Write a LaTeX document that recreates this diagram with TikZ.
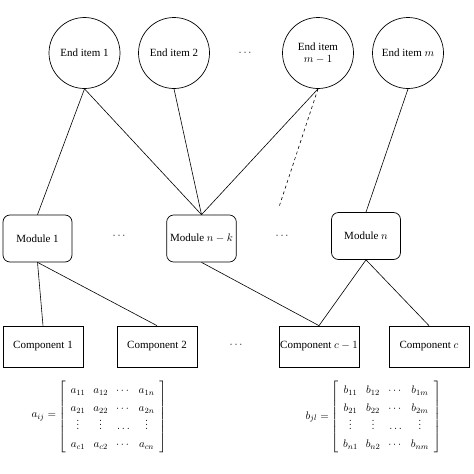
\documentclass[tikz,border=0pt]{standalone}
\usepackage{amsmath}
\usepackage{fontspec}
\setmainfont{Liberation Serif}
\usetikzlibrary{positioning}
\newcommand{\shortvdots}{\vbox{\baselineskip4pt\lineskiplimit0pt\hbox{$.$}\hbox{$.$}\hbox{$.$}}}

\begin{document}
\begin{tikzpicture}[x=1pt,y=-1pt, every node/.style={font=\fontsize{11}{12}\selectfont},
    enditem/.style={draw, circle, line width=0.7pt, minimum size=71pt, inner sep=0pt, align=center},
    module/.style={draw, line width=0.7pt, rounded corners=7pt, minimum width=69pt, minimum height=47pt},
    part/.style={draw, line width=0.7pt, minimum width=80pt, minimum height=41pt, inner sep=1pt},
    link/.style={line width=0.6pt}]
    \useasboundingbox (0,0) rectangle (474,474);

    % End items
    \node[enditem] (e1) at (84.5,53) {End item 1};
    \node[enditem] (e2) at (174,53) {End item 2};
    \node (edots) at (246,53) {$\cdots$};
    \node[enditem] (em1) at (318,53) {End item\\$m-1$};
    \node[enditem] (em) at (408,53) {End item $m$};

    % Modules
    \node[module] (m1) at (37.5,238.5) {Module 1};
    \node (mdots1) at (120,236) {$\cdots$};
    \node[module] (mnk) at (201.5,238.5) {Module $n-k$};
    \node (mdots2) at (283,236) {$\cdots$};
    \node[module] (mn) at (366,236) {Module $n$};

    % Components
    \node[part] (c1) at (43,346.5) {Component 1};
    \node[part] (c2) at (157,346.5) {Component 2};
    \node (cdots) at (237,345) {$\cdots$};
    \node[part] (cc1) at (319,346.5) {Component $c-1$};
    \node[part] (cc) at (429,346.5) {Component $c$};

    % End items to modules
    \draw[link] (e1.south) -- (m1.north);
    \draw[link] (e1.south) -- (mnk.north);
    \draw[link] (e2.south) -- (mnk.north);
    \draw[link] (em1.south) -- (mnk.north);
    \coordinate (dashend) at (279,207);
    \draw[link, dashed] (em1.south) -- (dashend);
    \draw[link] (em.south) -- (mn.north);

    % Modules to components
    \draw[link] (m1.south) -- (c1.north);
    \draw[link] (m1.south) -- (c2.north);
    \draw[link] (mnk.south) -- (cc1.north);
    \draw[link] (mn.south) -- (cc1.north);
    \draw[link] (mn.south) -- (cc.north);

    % Matrices
    \node (amat) at (112.5,417) {\renewcommand{\arraystretch}{1.5}\setlength{\arraycolsep}{4pt}%
        $\left[\begin{array}{@{\hspace{5pt}}cccc@{\hspace{5pt}}}
            a_{11} & a_{12} & \cdots & a_{1n}\\
            a_{21} & a_{22} & \cdots & a_{2n}\\
            \shortvdots & \shortvdots & \ldots & \shortvdots\\
            a_{c1} & a_{c2} & \cdots & a_{cn}
        \end{array}\right]$};
    \node[left=-5pt of amat] (alabel) {$a_{ij}=$};
    \node (bmat) at (386,417) {\renewcommand{\arraystretch}{1.5}\setlength{\arraycolsep}{4pt}%
        $\left[\begin{array}{@{\hspace{5pt}}cccc@{\hspace{5pt}}}
            b_{11} & b_{12} & \cdots & b_{1m}\\
            b_{21} & b_{22} & \cdots & b_{2m}\\
            \shortvdots & \shortvdots & \ldots & \shortvdots\\
            b_{n1} & b_{n2} & \cdots & b_{nm}
        \end{array}\right]$};
    \node[left=-5pt of bmat] (blabel) {$b_{jl}=$};
\end{tikzpicture}
\end{document}
